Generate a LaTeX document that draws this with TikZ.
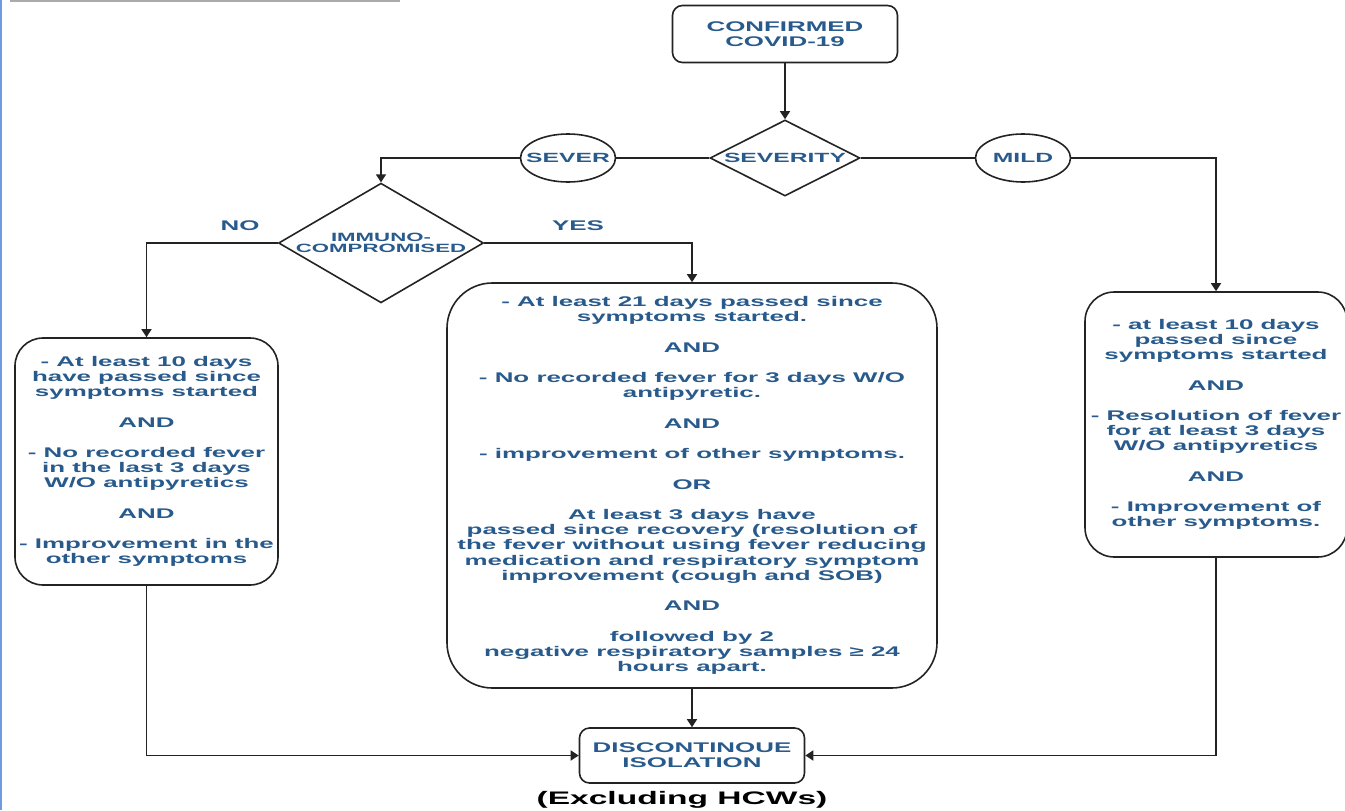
\documentclass[tikz,border=0pt]{standalone}
\usepackage{fontspec}
\usepackage{xcolor}
\usetikzlibrary{positioning,arrows.meta,shapes.geometric}

\newfontfamily\flowfont[FakeStretch=1.85]{Liberation Sans}
\definecolor{flowblue}{RGB}{40,90,140}
\definecolor{flowline}{RGB}{35,35,35}
\definecolor{frameblue}{RGB}{110,155,225}
\definecolor{framegray}{RGB}{170,170,170}

\begin{document}
\begin{tikzpicture}[
    x=0.75pt, y=-0.75pt,
    flowtext/.style={
        text=flowblue,
        font=\flowfont\bfseries\fontsize{10.5}{11.4}\selectfont
    },
    terminal/.style={
        rectangle,
        draw=flowline,
        line width=1.2pt,
        rounded corners=7.5pt,
        align=center,
        inner sep=0pt,
        minimum width=168.75pt,
        flowtext
    },
    criteria/.style={
        rectangle,
        draw=flowline,
        line width=1.2pt,
        align=center,
        inner sep=0pt,
        flowtext
    },
    decision/.style={
        diamond,
        draw=flowline,
        line width=1.2pt,
        align=center,
        inner sep=0pt,
        flowtext
    },
    branch/.style={
        ellipse,
        draw=flowline,
        line width=1.2pt,
        inner sep=0pt,
        minimum width=71.25pt,
        minimum height=36pt,
        flowtext,
        font=\flowfont\bfseries\fontsize{10}{11}\selectfont
    },
    arrow/.style={-{Triangle[length=6pt,width=7.5pt]}, line width=1.2pt, draw=flowline},
    link/.style={line width=1.2pt, draw=flowline}
]
\useasboundingbox (0,0) rectangle (1345,810);

% edges of the page
\draw[framegray, line width=1.5pt] (10,1) -- (400,1);
\draw[frameblue, line width=2pt] (1,0) -- (1,810);

\node[terminal, minimum height=42.75pt] (confirmed) at (785,34) {CONFIRMED\\COVID-19};
\node[decision, minimum width=112.5pt, minimum height=57pt,
      font=\flowfont\bfseries\fontsize{10}{11}\selectfont] (severity) at (785,158) {\makebox[0pt]{SEVERITY}};
\node[branch] (sever) at (568,158) {\makebox[0pt]{SEVER}};
\node[branch] (mild) at (1023,158) {\makebox[0pt]{MILD}};

\node[decision, minimum width=153.75pt, minimum height=71.25pt,
      font=\flowfont\bfseries\fontsize{9}{8.5}\selectfont] (immuno) at (381,243) {IMMUNO-\\\makebox[0pt]{COMPROMISED}};
\node[flowtext] (no) at (240,226) {NO};
\node[flowtext] (yes) at (578,226) {YES};

\node[criteria, rounded corners=21pt, minimum width=197.25pt, minimum height=185.25pt] (nocase) at (146.5,461.5)
    {- At least 10 days\\have passed since\\symptoms started\\[11.4pt]
     AND\\[11.4pt]
     - No recorded fever\\in the last 3 days\\W/O antipyretics\\[11.4pt]
     AND\\[11.4pt]
     - Improvement in the\\other symptoms};

\node[criteria, rounded corners=34pt, minimum width=367.5pt, minimum height=303.75pt] (yescase) at (692,485.5)
    {- At least 21 days passed since\\symptoms started.\\[11.4pt]
     AND\\[11.4pt]
     - No recorded fever for 3 days W/O\\antipyretic.\\[11.4pt]
     AND\\[11.4pt]
     - improvement of other symptoms.\\[11.4pt]
     OR\\[11.4pt]
     At least 3 days have\\passed since recovery (resolution of\\the fever without using fever reducing\\medication and respiratory symptom\\improvement (cough and SOB)\\[11.4pt]
     AND\\[11.4pt]
     followed by 2\\negative respiratory samples ≥ 24\\hours apart.};

\node[criteria, rounded corners=22pt, minimum width=196.5pt, minimum height=198.75pt] (mildcase) at (1216,424.5)
    {- at least 10 days\\passed since\\symptoms started\\[11.4pt]
     AND\\[11.4pt]
     - Resolution of fever\\for at least 3 days\\W/O antipyretics\\[11.4pt]
     AND\\[11.4pt]
     - Improvement of\\other symptoms.};

\node[terminal, minimum height=41.25pt] (discontinue) at (692,755.5) {DISCONTINOUE\\ISOLATION};
\node[font=\flowfont\bfseries\fontsize{13.6}{15}\selectfont] (excluding) at (682,800) {(Excluding HCWs)};

\draw[arrow] (confirmed) -- (severity);
\draw[link] (severity) -- (sever);
\draw[link] (severity) -- (mild);
\draw[arrow] (sever) -| (immuno);
\draw[arrow] (mild) -| (mildcase);
\draw[arrow] (immuno) -| (nocase);
\draw[arrow] (immuno) -| (yescase);
\draw[arrow] (yescase) -- (discontinue);
\draw[arrow] (nocase) |- (discontinue);
\draw[arrow] (mildcase) |- (discontinue);

\end{tikzpicture}
\end{document}
